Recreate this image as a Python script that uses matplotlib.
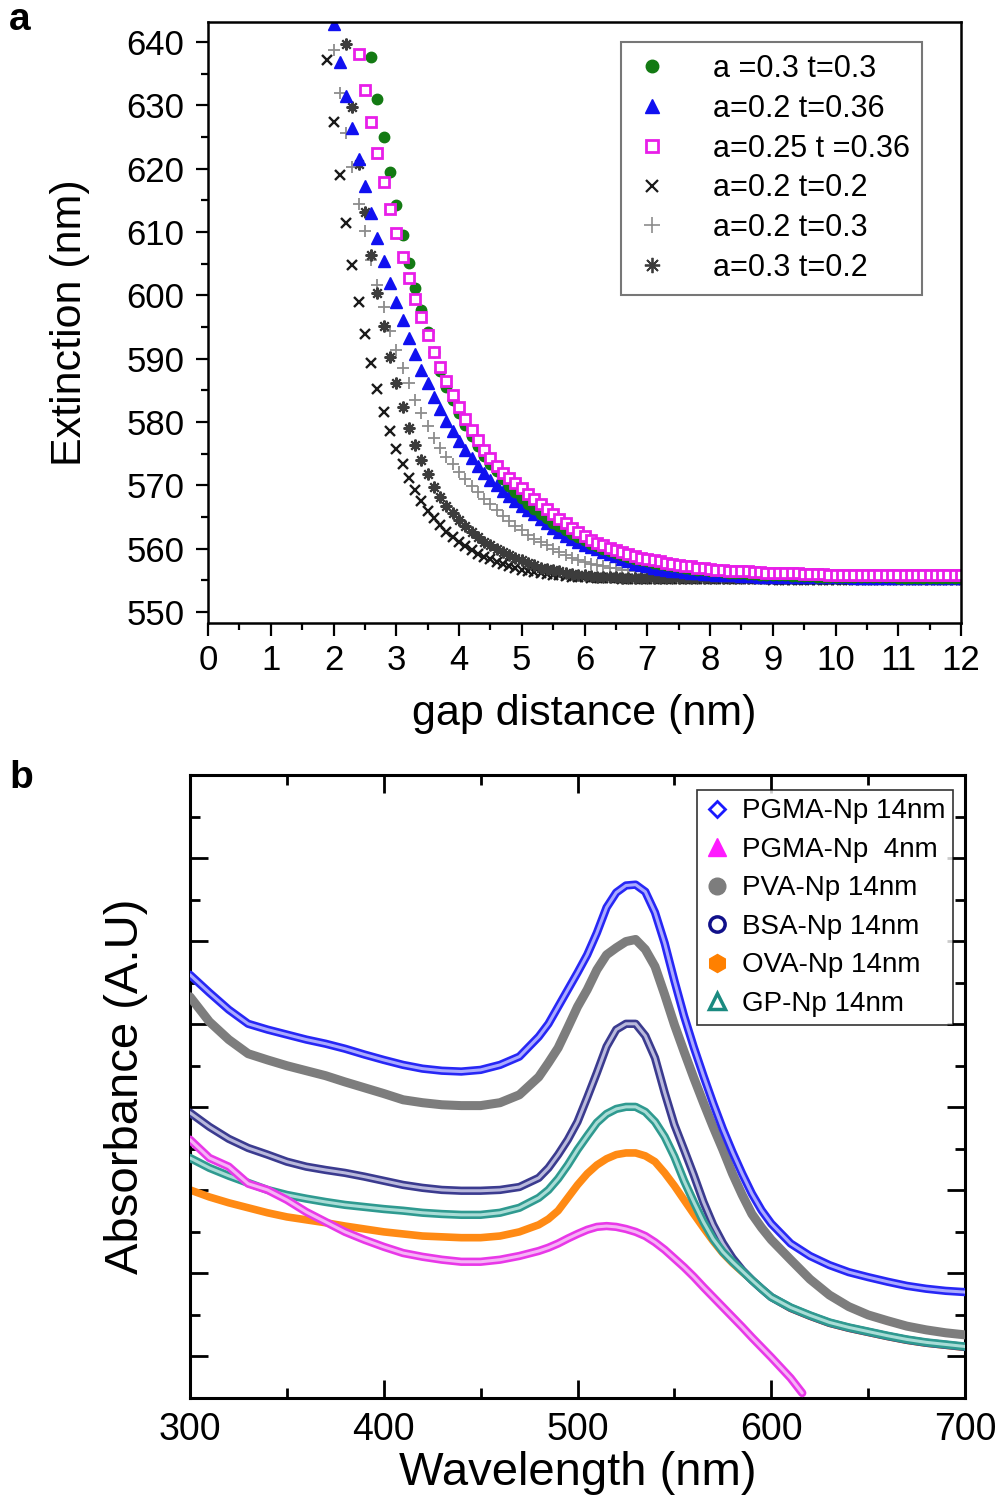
import matplotlib
matplotlib.use("Agg")
import matplotlib.pyplot as plt
import numpy as np
from matplotlib.lines import Line2D
from matplotlib.ticker import MultipleLocator, NullFormatter

plt.rcParams["font.family"] = ["Liberation Sans", "DejaVu Sans"]

# ---------------------------------------------------------------------------
# Panel a: extinction peak vs gap distance (x sampled every 0.1 nm)
# ---------------------------------------------------------------------------
STEP_A = 0.1

green_x0 = 2.6
green_y = [637.6, 631.0, 625.0, 619.4, 614.3, 609.5, 605.1, 601.2, 597.7, 594.2,
           591.0, 588.1, 585.6, 583.4, 581.4, 579.5, 577.8, 576.2, 574.7, 573.4,
           572.2, 571.0, 569.9, 568.9, 568.0, 567.1, 566.3, 565.5, 564.8, 564.1,
           563.5, 562.9, 562.3, 561.8, 561.3, 560.8, 560.4, 560.0, 559.6, 559.3,
           559.0, 558.7, 558.4, 558.2, 558.0, 557.8, 557.6, 557.4, 557.2, 557.1,
           556.9, 556.8, 556.7, 556.6, 556.5, 556.4, 556.3, 556.2, 556.1, 556.1,
           556.0, 556.0, 555.9, 555.9, 555.8, 555.8, 555.8, 555.7, 555.7, 555.7,
           555.7, 555.6, 555.6, 555.6, 555.6, 555.6, 555.5, 555.5, 555.5, 555.5,
           555.5, 555.5, 555.5, 555.5, 555.4, 555.4, 555.4, 555.4, 555.4, 555.4,
           555.4, 555.4, 555.4, 555.4, 555.4]

blue_x0 = 2.0
blue_y = [642.8, 636.9, 631.4, 626.4, 621.6, 617.2, 613.0, 609.0, 605.5, 602.0,
          599.0, 596.1, 593.2, 590.8, 588.2, 586.1, 584.0, 582.0, 580.2, 578.5,
          577.0, 575.6, 574.3, 573.0, 571.9, 570.9, 570.0, 569.1, 568.3, 567.5,
          566.8, 566.1, 565.4, 564.7, 564.0, 563.3, 562.6, 562.0, 561.5, 561.0,
          560.6, 560.2, 559.9, 559.5, 559.2, 558.8, 558.4, 558.0, 557.6, 557.4,
          557.2, 557.0, 556.8, 556.7, 556.5, 556.4, 556.3, 556.2, 556.1, 556.0,
          556.0, 555.9, 555.9, 555.8, 555.8, 555.7, 555.7, 555.7, 555.6, 555.6,
          555.6, 555.6, 555.5, 555.5, 555.5, 555.5, 555.5, 555.5, 555.5, 555.5,
          555.5, 555.5, 555.5, 555.4, 555.4, 555.4, 555.4, 555.4, 555.4, 555.4,
          555.4, 555.4, 555.4, 555.4, 555.4, 555.4, 555.4, 555.4, 555.4, 555.4,
          555.4]

pink_x0 = 2.4
pink_y = [638.1, 632.4, 627.3, 622.4, 617.9, 613.7, 609.9, 606.1, 602.7, 599.5,
          596.6, 593.8, 591.1, 588.7, 586.4, 584.3, 582.3, 580.4, 578.7, 577.1,
          575.6, 574.3, 573.0, 572.0, 571.1, 570.3, 569.5, 568.7, 567.9, 567.0,
          566.2, 565.4, 564.7, 564.0, 563.3, 562.6, 562.0, 561.4, 560.9, 560.5,
          560.1, 559.8, 559.5, 559.2, 558.9, 558.6, 558.4, 558.2, 558.0, 557.8,
          557.6, 557.4, 557.3, 557.2, 557.0, 556.9, 556.8, 556.7, 556.6, 556.5,
          556.5, 556.4, 556.4, 556.3, 556.3, 556.2, 556.2, 556.2, 556.1, 556.1,
          556.1, 556.0, 556.0, 556.0, 556.0, 555.9, 555.9, 555.9, 555.9, 555.9,
          555.8, 555.8, 555.8, 555.8, 555.8, 555.8, 555.8, 555.8, 555.8, 555.8,
          555.8, 555.8, 555.8, 555.8, 555.8, 555.8, 555.8]

cross_x0 = 1.9
cross_y = [637.1, 627.4, 619.0, 611.5, 604.8, 599.0, 593.9, 589.3, 585.2, 581.6,
           578.6, 575.7, 573.3, 571.2, 569.3, 567.5, 566.0, 564.8, 563.7, 562.7,
           561.8, 561.0, 560.4, 559.8, 559.2, 558.7, 558.3, 557.9, 557.5, 557.2,
           556.9, 556.7, 556.5, 556.3, 556.1, 556.0, 555.9, 555.8, 555.7, 555.6,
           555.5, 555.5, 555.4, 555.4, 555.3, 555.3, 555.3, 555.2, 555.2, 555.2,
           555.2, 555.2, 555.2, 555.2, 555.2, 555.2, 555.2, 555.2, 555.2, 555.2,
           555.2, 555.2, 555.2, 555.2, 555.2, 555.2, 555.2, 555.2, 555.2, 555.2,
           555.2, 555.1, 555.1, 555.1, 555.1, 555.1, 555.1, 555.1, 555.1, 555.1,
           555.1, 555.1, 555.1, 555.1, 555.1, 555.1, 555.1, 555.1, 555.1, 555.1,
           555.1, 555.1, 555.1, 555.1, 555.1, 555.1, 555.1, 555.1, 555.1, 555.1,
           555.1, 555.1]

plus_x0 = 2.0
plus_y = [638.7, 632.0, 625.7, 620.3, 614.5, 610.2, 605.6, 601.6, 598.1, 594.4,
          591.3, 588.5, 586.1, 583.5, 581.4, 579.3, 577.5, 575.9, 574.5, 573.3,
          572.1, 571.0, 569.9, 568.9, 567.9, 567.0, 566.1, 565.2, 564.4, 563.6,
          562.9, 562.2, 561.6, 561.0, 560.5, 560.0, 559.5, 559.0, 558.6, 558.2,
          557.9, 557.6, 557.4, 557.2, 557.0, 556.9, 556.7, 556.6, 556.5, 556.4,
          556.3, 556.2, 556.1, 556.0, 556.0, 555.9, 555.9, 555.8, 555.8, 555.7,
          555.7, 555.7, 555.6, 555.6, 555.6, 555.6, 555.6, 555.6, 555.6, 555.6,
          555.6, 555.6, 555.6, 555.6, 555.6, 555.5, 555.5, 555.5, 555.5, 555.5,
          555.5, 555.5, 555.5, 555.5, 555.5, 555.5, 555.5, 555.5, 555.5, 555.5,
          555.5, 555.5, 555.5, 555.5, 555.5, 555.5, 555.5, 555.5, 555.5, 555.5,
          555.5]

star_x0 = 2.2
star_y = [639.7, 629.7, 620.8, 613.2, 606.4, 600.3, 595.1, 590.3, 586.1, 582.4,
          579.1, 576.4, 574.0, 571.8, 569.8, 568.2, 566.8, 565.6, 564.5, 563.5,
          562.6, 561.8, 561.1, 560.5, 560.0, 559.5, 559.0, 558.6, 558.2, 557.8,
          557.4, 557.0, 556.8, 556.6, 556.4, 556.2, 556.0, 555.9, 555.8, 555.7,
          555.6, 555.6, 555.5, 555.5, 555.4, 555.4, 555.3, 555.3, 555.3, 555.3,
          555.3, 555.3, 555.3, 555.3, 555.3, 555.3, 555.3, 555.3, 555.3, 555.3,
          555.3, 555.3, 555.3, 555.3, 555.3, 555.3, 555.3, 555.3, 555.3, 555.3,
          555.3, 555.3, 555.3, 555.3, 555.3, 555.3, 555.3, 555.3, 555.3, 555.3,
          555.3, 555.3, 555.3, 555.3, 555.3, 555.3, 555.3, 555.3, 555.3, 555.3,
          555.3, 555.3, 555.3, 555.3, 555.3, 555.3, 555.3, 555.3, 555.3]

labels_a = ["a =0.3 t=0.3", "a=0.2 t=0.36", "a=0.25 t =0.36",
            "a=0.2 t=0.2", "a=0.2 t=0.3", "a=0.3 t=0.2"]

# ---------------------------------------------------------------------------
# Panel b: absorbance spectra (arbitrary units)
# ---------------------------------------------------------------------------
wl = [300, 310, 320, 330, 340, 350, 360, 370, 380, 390, 400, 410, 420, 430, 440, 450, 460, 470,
      480, 485, 490, 495, 500, 505, 510, 515, 520, 525, 530, 535, 540, 545, 550, 555, 560,
      565, 570, 575, 580, 585, 590, 595, 600,
      610, 620, 630, 640, 650, 660, 670, 680, 690, 700]

pgma14 = [10.19, 9.76, 9.35, 9.01, 8.87, 8.75, 8.63, 8.53, 8.41, 8.27, 8.14, 8.02, 7.93, 7.88,
          7.86, 7.90, 8.02, 8.22,
          8.70, 9.01, 9.42, 9.83, 10.24, 10.67, 11.20, 11.81, 12.17, 12.34, 12.36, 12.19, 11.69,
          10.95, 10.05, 9.20, 8.45, 7.76, 7.10, 6.48, 5.92, 5.40, 4.92, 4.52, 4.20,
          3.72, 3.42, 3.20, 3.03, 2.91, 2.80, 2.70, 2.63, 2.58, 2.55]

pva14 = [9.66, 9.06, 8.63, 8.29, 8.14, 8.00, 7.88, 7.76, 7.61, 7.47, 7.33, 7.18, 7.11, 7.06,
         7.04, 7.04, 7.11, 7.30,
         7.73, 8.07, 8.43, 8.92, 9.42, 9.83, 10.31, 10.67, 10.84, 10.99, 11.04, 10.80, 10.39,
         9.71, 8.99, 8.34, 7.71, 7.11, 6.53, 5.98, 5.40, 4.89, 4.43, 4.10, 3.81,
         3.33, 2.86, 2.48, 2.20, 2.00, 1.86, 1.73, 1.64, 1.57, 1.52]

bsa14 = [6.87, 6.53, 6.24, 6.02, 5.86, 5.69, 5.57, 5.49, 5.42, 5.33, 5.23, 5.13, 5.06, 5.01,
         4.99, 4.99, 5.01, 5.08,
         5.30, 5.54, 5.86, 6.22, 6.65, 7.23, 7.83, 8.46, 8.87, 9.01, 9.01, 8.72, 8.19,
         7.35, 6.58, 5.98, 5.37, 4.72, 4.17, 3.73, 3.37, 3.08, 2.84, 2.63, 2.43,
         2.17, 1.98, 1.81, 1.69, 1.59, 1.49, 1.40, 1.33, 1.28, 1.23]

gp14 = [5.78, 5.54, 5.35, 5.18, 5.01, 4.89, 4.80, 4.72, 4.65, 4.60, 4.55, 4.51, 4.46, 4.43,
        4.41, 4.41, 4.46, 4.58,
        4.82, 5.01, 5.28, 5.61, 5.98, 6.31, 6.63, 6.84, 6.96, 7.01, 7.01, 6.89, 6.65,
        6.29, 5.81, 5.23, 4.72, 4.24, 3.83, 3.52, 3.28, 3.06, 2.84, 2.63, 2.43,
        2.18, 1.99, 1.82, 1.70, 1.60, 1.50, 1.41, 1.34, 1.29, 1.24]

ova14 = [5.01, 4.84, 4.70, 4.58, 4.46, 4.36, 4.29, 4.22, 4.14, 4.07, 4.00, 3.95, 3.90, 3.88,
         3.86, 3.86, 3.90, 4.00,
         4.17, 4.31, 4.51, 4.82, 5.13, 5.40, 5.61, 5.76, 5.86, 5.90, 5.90, 5.83, 5.69,
         5.42, 5.11, 4.77, 4.43, 4.10, 3.78, 3.49, 3.25, 3.04, 2.84, 2.63, 2.43,
         2.16, 1.97, 1.80, 1.68, 1.58, 1.48, 1.39, 1.32, 1.27, 1.22]

wl_pgma4 = [300, 310, 320, 330, 340, 350, 360, 370, 380, 390, 400, 410, 420, 430, 440, 450,
            460, 470, 480, 485, 490, 495, 500, 505, 510, 515, 520, 525, 530, 535, 540, 545,
            550, 555, 560, 565, 570, 575, 580, 585, 590, 595, 600, 610, 616]
pgma4 = [6.22, 5.78, 5.57, 5.16, 5.01, 4.77, 4.48, 4.24, 4.00, 3.81, 3.64, 3.49, 3.40, 3.33,
         3.28, 3.28, 3.33, 3.42,
         3.54, 3.62, 3.72, 3.84, 3.95, 4.05, 4.12, 4.14, 4.12, 4.07, 4.00, 3.90, 3.75,
         3.57, 3.36, 3.15, 2.92, 2.67, 2.43, 2.19, 1.95, 1.71, 1.46, 1.22, 0.98,
         0.48, 0.12]

labels_b = ["PGMA-Np 14nm", "PGMA-Np  4nm", "PVA-Np 14nm",
            "BSA-Np 14nm", "OVA-Np 14nm", "GP-Np 14nm"]


def xs(x0, ys):
    return x0 + STEP_A * np.arange(len(ys))


fig = plt.figure(figsize=(10, 15.01), dpi=100)

# ---------------------------------------------------------------- panel a
ax = fig.add_axes([0.208, 0.58494, 0.753, 0.4004])

ax.plot(xs(cross_x0, cross_y), cross_y, ls="none", marker="x", ms=7, mew=1.7,
        color="#1a1a1a")
ax.plot(xs(plus_x0, plus_y), plus_y, ls="none", marker="+", ms=8.5, mew=1.3,
        color="#8c8c8c")
ax.plot(xs(star_x0, star_y), star_y, ls="none", marker=(8, 2, 0), ms=8.5, mew=1.5,
        color="#3c3c3c")
ax.plot(xs(blue_x0, blue_y), blue_y, ls="none", marker="^", ms=8, color="#1010f0")
ax.plot(xs(green_x0, green_y), green_y, ls="none", marker="o", ms=7.5, color="#137a13")
ax.plot(xs(pink_x0, pink_y), pink_y, ls="none", marker="s", ms=7, mfc="white",
        mec="#e81ee8", mew=2.0)

ax.set_xlim(0, 12)
ax.set_ylim(548.26, 643.16)
ax.xaxis.set_major_locator(MultipleLocator(1))
ax.xaxis.set_minor_locator(MultipleLocator(0.5))
ax.yaxis.set_major_locator(MultipleLocator(10))
ax.yaxis.set_minor_locator(MultipleLocator(5))
ax.tick_params(which="both", direction="out", width=1.6, labelsize=25,
               top=False, right=False)
ax.tick_params(which="major", length=9)
ax.tick_params(which="minor", length=5)
ax.tick_params(axis="y", which="major", pad=8)
ax.tick_params(axis="x", which="major", pad=6)
for s in ax.spines.values():
    s.set_linewidth(1.8)
ax.set_xlabel("gap distance (nm)", fontsize=31, labelpad=12)
ax.set_ylabel("Extinction (nm)", fontsize=31, labelpad=26)

handles_a = [
    Line2D([], [], ls="none", marker="o", ms=9, color="#137a13"),
    Line2D([], [], ls="none", marker="^", ms=10, color="#1010f0"),
    Line2D([], [], ls="none", marker="s", ms=8.5, mfc="white", mec="#e81ee8", mew=2),
    Line2D([], [], ls="none", marker="x", ms=9, mew=1.6, color="#1a1a1a"),
    Line2D([], [], ls="none", marker="+", ms=11, mew=1.2, color="#8c8c8c"),
    Line2D([], [], ls="none", marker=(8, 2, 0), ms=11, mew=1.3, color="#3c3c3c"),
]
leg = ax.legend(handles_a, labels_a, loc="upper right", bbox_to_anchor=(0.948, 0.967),
                borderaxespad=0, fontsize=22, frameon=True, fancybox=False,
                edgecolor="#555555", handlelength=1.2, handletextpad=1.4,
                labelspacing=0.32, borderpad=0.4)
leg.get_frame().set_linewidth(1.5)

fig.text(0.009, 0.999, "a", fontsize=28, fontweight="bold", va="top")

# ---------------------------------------------------------------- panel b
bx = fig.add_axes([0.190, 0.06862, 0.775, 0.41506])


def band(x, y, outer, inner, z, lw=6.0, ilw=2.2):
    bx.plot(x, y, color=outer, lw=lw, solid_capstyle="round", zorder=z)
    if inner is not None:
        bx.plot(x, y, color=inner, lw=ilw, solid_capstyle="round", zorder=z + 0.1)


band(wl, ova14, "#ff8a14", None, 2, lw=5.5)
band(wl, bsa14, "#3b3b8f", "#b9b9dc", 3)
band(wl, gp14, "#2f9a90", "#a9dcd6", 4)
band(wl, pva14, "#7d7d7d", None, 5, lw=6.5)
band(wl, pgma14, "#2727f5", "#aaaaff", 6)
band(wl_pgma4, pgma4, "#e838e8", "#f6b3f6", 7)

bx.set_xlim(300, 700)
bx.set_ylim(0, 15.0)
bx.xaxis.set_major_locator(MultipleLocator(100))
bx.xaxis.set_minor_locator(MultipleLocator(50))
bx.set_yticks([1, 3, 5, 7, 9, 11, 13])
bx.set_yticks([2, 4, 6, 8, 10, 12, 14], minor=True)
bx.yaxis.set_major_formatter(NullFormatter())
bx.tick_params(which="both", direction="in", width=2, labelsize=27,
               top=True, right=True)
bx.tick_params(which="major", length=13, pad=10)
bx.tick_params(which="minor", length=7)
for s in bx.spines.values():
    s.set_linewidth(2.2)
bx.set_xlabel("Wavelength (nm)", fontsize=34, labelpad=2)
bx.set_ylabel("Absorbance (A.U)", fontsize=34, labelpad=20)

handles_b = [
    Line2D([], [], ls="none", marker="D", ms=8, mfc="none", mec="#1a1aff", mew=2),
    Line2D([], [], ls="none", marker="^", ms=13, color="#ff1aff"),
    Line2D([], [], ls="none", marker="o", ms=12, color="#7d7d7d"),
    Line2D([], [], ls="none", marker="o", ms=11, mfc="none", mec="#10108a", mew=2.5),
    Line2D([], [], ls="none", marker="h", ms=13, color="#ff8000"),
    Line2D([], [], ls="none", marker="^", ms=12, mfc="none", mec="#1a8a80", mew=2.5),
]
leg_b = bx.legend(handles_b, labels_b, loc="upper right", bbox_to_anchor=(0.985, 0.976),
                  borderaxespad=0, fontsize=20, frameon=True, fancybox=False,
                  edgecolor="black", handlelength=0.8, handletextpad=0.49,
                  labelspacing=0.45, borderpad=0.3)
leg_b.get_frame().set_linewidth(1.2)

fig.text(0.009, 0.4937, "b", fontsize=28, fontweight="bold", va="top")

fig.savefig("out.png", dpi=100)
